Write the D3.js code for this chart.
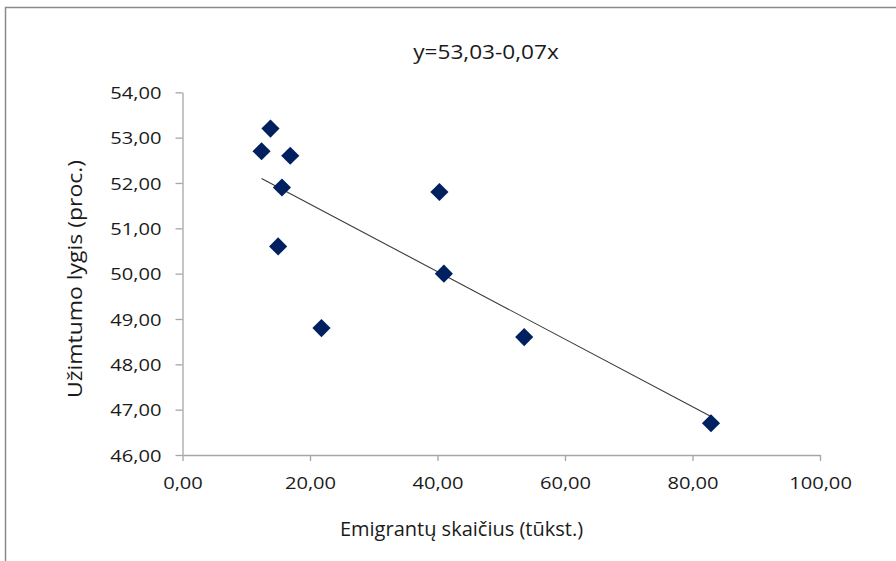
<!DOCTYPE html>
<html>
<head>
<meta charset="utf-8">
<script src="https://cdn.jsdelivr.net/npm/d3@7"></script>
<style>
  html, body { margin: 0; padding: 0; background: #fff; }
  svg { display: block; }
  text { font-family: "Open Sans", sans-serif; fill: #1a1a1a; }
</style>
</head>
<body>
<svg id="chart" width="896" height="561"></svg>
<script>
// ---- data ----
const emigrants = [13.8, 12.4, 16.9, 15.6, 15.0, 21.8, 40.3, 41.0, 53.6, 82.9];
const employment = [53.2, 52.7, 52.6, 51.9, 50.6, 48.8, 51.8, 50.0, 48.6, 46.7];
const xTicks = [0, 20, 40, 60, 80, 100];
const yTicks = [46, 47, 48, 49, 50, 51, 52, 53, 54];
const titleText = "y=53,03-0,07x";
const xTitle = "Emigrantų skaičius (tūkst.)";
const yTitle = "Užimtumo lygis (proc.)";

(function () {
const svg = d3.select("#chart");
const W = 896, H = 561;
const pLeft = 182.5, pRight = 820, pTop = 92.3, pBottom = 455;

function stretch(sel, k) {
  sel.each(function () {
    const len = this.getComputedTextLength();
    d3.select(this).attr("textLength", len * k).attr("lengthAdjust", "spacingAndGlyphs");
  });
}

// outer frame
svg.append("rect")
  .attr("x", 5.5).attr("y", 7.5)
  .attr("width", W + 10).attr("height", H + 10)
  .attr("fill", "#fff").attr("stroke", "#8a8a8a").attr("stroke-width", 1.5);

const x = d3.scaleLinear().domain([0, 100]).range([pLeft, pRight]);
const y = d3.scaleLinear().domain([46, 54]).range([pBottom, pTop]);
const fmt = d => d3.format(".2f")(d).replace(".", ",");

// axes
const gx = svg.append("g").attr("transform", `translate(0,${pBottom})`)
  .call(d3.axisBottom(x).tickValues(xTicks).tickFormat(fmt).tickSize(6).tickSizeOuter(0).tickPadding(16));
const gy = svg.append("g").attr("transform", `translate(${pLeft},0)`)
  .call(d3.axisLeft(y).tickValues(yTicks).tickFormat(fmt).tickSize(7).tickSizeOuter(0).tickPadding(14));

[gx, gy].forEach(g => {
  g.select(".domain").attr("stroke", "#a6a6a6").attr("stroke-width", 1.3);
  g.selectAll(".tick line").attr("stroke", "#a6a6a6").attr("stroke-width", 1.3);
  g.selectAll(".tick text").attr("font-size", 16.5).attr("fill", "#1a1a1a")
    .attr("font-family", "Open Sans, sans-serif");
});
gy.selectAll(".tick text").attr("dy", "0.38em");
gx.selectAll(".tick text").attr("dy", "0.71em");
stretch(gx.selectAll(".tick text"), 1.22);
stretch(gy.selectAll(".tick text"), 1.22);

// trend line (least squares)
const n = emigrants.length;
const mx = d3.mean(emigrants), my = d3.mean(employment);
let sxy = 0, sxx = 0;
for (let i = 0; i < n; i++) {
  sxy += (emigrants[i] - mx) * (employment[i] - my);
  sxx += (emigrants[i] - mx) ** 2;
}
const slope = sxy / sxx, intercept = my - slope * mx;
const [x0, x1] = d3.extent(emigrants);
svg.append("line")
  .attr("x1", x(x0)).attr("y1", y(intercept + slope * x0))
  .attr("x2", x(x1)).attr("y2", y(intercept + slope * x1))
  .attr("stroke", "#3a3a3a").attr("stroke-width", 1.1);

// markers
const sym = d3.symbol().type(d3.symbolSquare).size(165);
svg.append("g").selectAll("path")
  .data(emigrants.map((e, i) => [e, employment[i]]))
  .join("path")
  .attr("d", sym)
  .attr("transform", d => `translate(${x(d[0])},${y(d[1])}) rotate(45)`)
  .attr("fill", "#002060");

// titles
const t = svg.append("text").attr("x", 486).attr("y", 58.5)
  .attr("text-anchor", "middle").attr("font-size", 20).text(titleText);
stretch(t, 1.13);

svg.append("text").attr("x", 461.5).attr("y", 535.5)
  .attr("text-anchor", "middle").attr("font-size", 20).text(xTitle);

const yt = svg.append("text")
  .attr("transform", `translate(81.5,279) rotate(-90)`)
  .attr("text-anchor", "middle").attr("font-size", 20).text(yTitle);
yt.each(function () {
  d3.select(this).attr("textLength", 238).attr("lengthAdjust", "spacingAndGlyphs");
});
})();
</script>
</body>
</html>
